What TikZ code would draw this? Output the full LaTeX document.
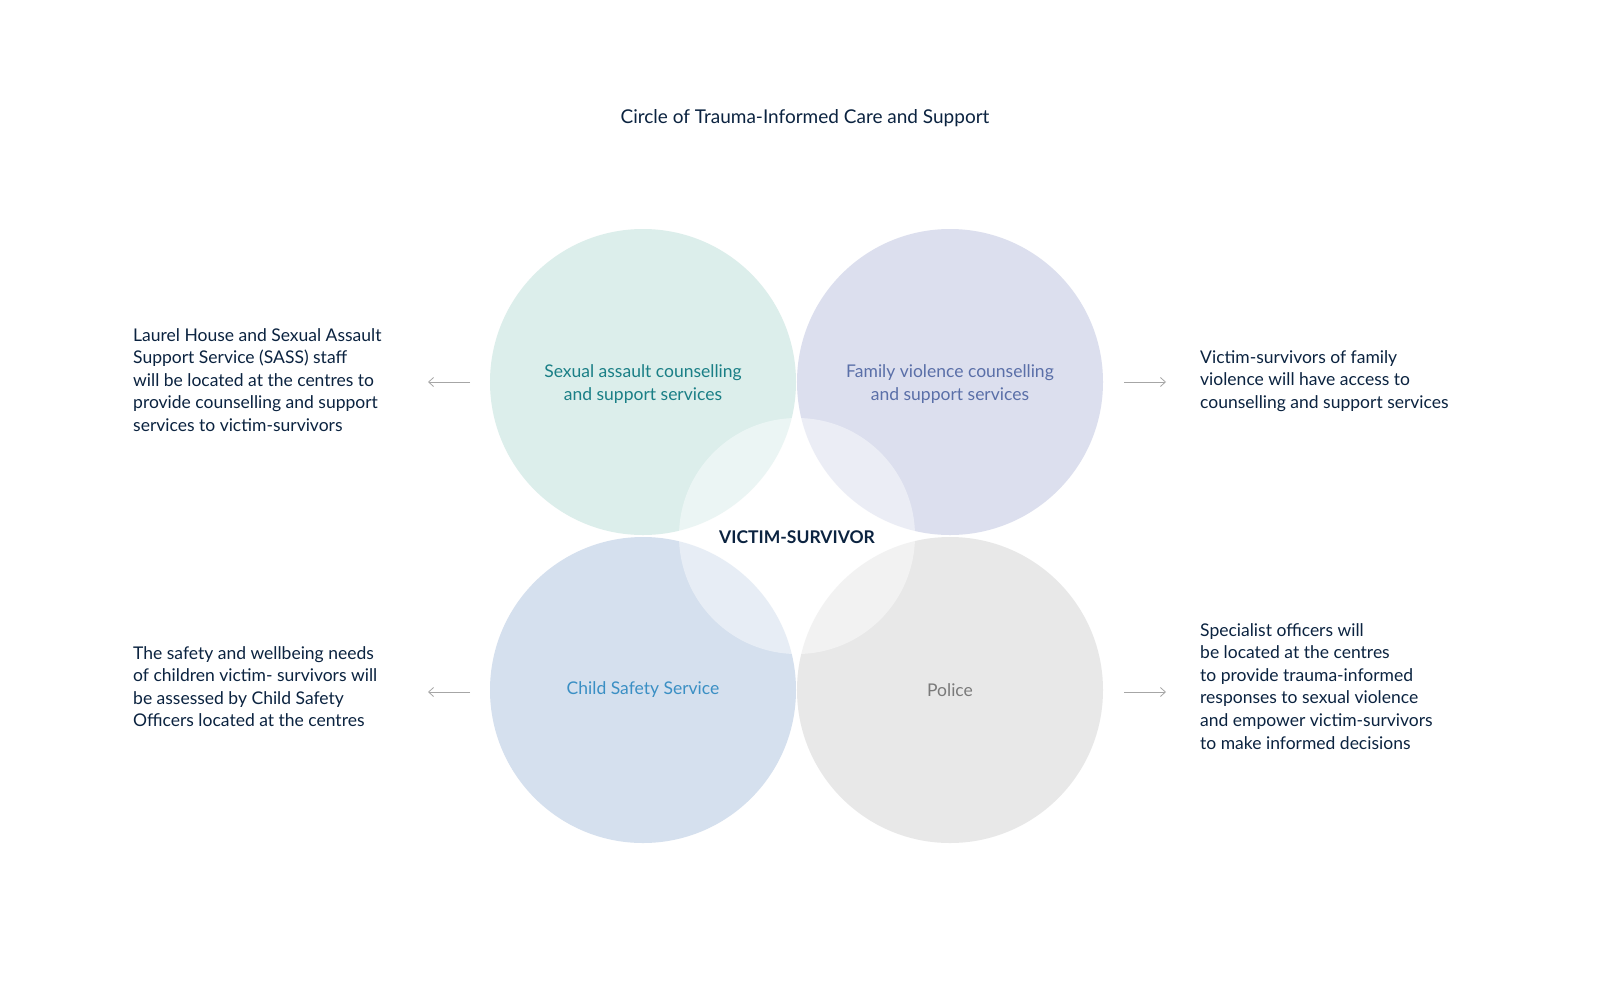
\documentclass[tikz,border=0pt]{standalone}
\usepackage{fontspec}
\setmainfont{Lato}
\usetikzlibrary{arrows.meta}
\definecolor{navy}{HTML}{0B2340}
\definecolor{cTL}{HTML}{DCEEEB}
\definecolor{cTR}{HTML}{DCDFEE}
\definecolor{cBL}{HTML}{D5E0EE}
\definecolor{cBR}{HTML}{E8E8E8}
\definecolor{tTL}{HTML}{1A7F86}
\definecolor{tTR}{HTML}{5A6FA8}
\definecolor{tBL}{HTML}{3A8FC4}
\definecolor{tBR}{HTML}{7A7A7A}
\begin{document}
\begin{tikzpicture}[x=1pt,y=-1pt,
  circ/.style={circle,minimum size=306pt,inner sep=0pt},
  lab/.style={align=center,font=\fontsize{17.5}{23}\selectfont},
  desc/.style={align=left,anchor=north west,inner sep=0pt,text=navy,font=\fontsize{17.5}{22.6}\selectfont},
  arr/.style={draw=gray!70,line width=0.8pt,-{Straight Barb[length=5pt,width=9pt]}}]
\useasboundingbox (0,0) rectangle (1604,997);
\fill[white] (0,0) rectangle (1604,997);
\node[circ,fill=cTL] (tl) at (643,382) {};
\node[circ,fill=cTR] (tr) at (950,382) {};
\node[circ,fill=cBL] (bl) at (643,690) {};
\node[circ,fill=cBR] (br) at (950,690) {};
\node[circle,minimum size=236pt,inner sep=0pt,fill=white,fill opacity=0.45] (c) at (797,536) {};
\node[lab,text=tTL] (ltl) at (643,384) {Sexual assault counselling\\and support services};
\node[lab,text=tTR] (ltr) at (950,384) {Family violence counselling\\and support services};
\node[lab,text=tBL] (lbl) at (643,690) {Child Safety Service};
\node[lab,text=tBR] (lbr) at (950,690) {Police};
\node[lab,text=navy,font=\fontsize{17.5}{22}\selectfont\bfseries] (vs) at (797,537) {VICTIM-SURVIVOR};
\node[lab,text=navy,font=\fontsize{19}{23}\selectfont] (title) at (805,118) {Circle of Trauma-Informed Care and Support};
\node[desc] (d1) at (133,328) {Laurel House and Sexual Assault\\Support Service (SASS) staff\\will be located at the centres to\\provide counselling and support\\services to victim-survivors};
\node[desc] (d2) at (1200,350) {Victim-survivors of family\\violence will have access to\\counselling and support services};
\node[desc] (d3) at (133,646) {The safety and wellbeing needs\\of children victim- survivors will\\be assessed by Child Safety\\Officers located at the centres};
\node[desc] (d4) at (1200,623) {Specialist officers will\\be located at the centres\\to provide trauma-informed\\responses to sexual violence\\and empower victim-survivors\\to make informed decisions};
\coordinate (a1s) at (470,382); \coordinate (a1e) at (428,382);
\coordinate (a2s) at (1124,382); \coordinate (a2e) at (1166,382);
\coordinate (a3s) at (470,692); \coordinate (a3e) at (428,692);
\coordinate (a4s) at (1124,692); \coordinate (a4e) at (1166,692);
\draw[arr] (a1s) -- (a1e);
\draw[arr] (a2s) -- (a2e);
\draw[arr] (a3s) -- (a3e);
\draw[arr] (a4s) -- (a4e);
\end{tikzpicture}
\end{document}
